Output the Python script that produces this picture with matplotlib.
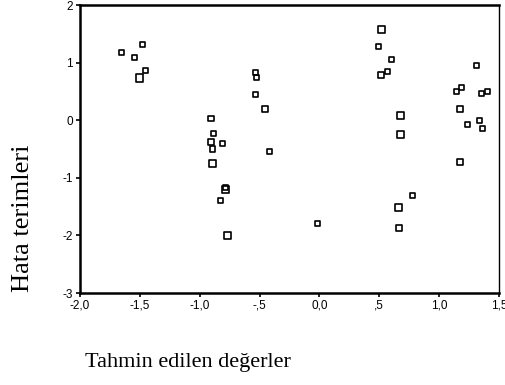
import matplotlib
matplotlib.use("Agg")
import matplotlib.pyplot as plt

# predicted values vs residuals
pred = [-1.652, -1.543, -1.480, -1.452, -1.505,
        -0.908, -0.883, -0.908, -0.897, -0.810, -0.891,
        -0.786, -0.786, -0.825, -0.766,
        -0.538, -0.524, -0.538, -0.455, -0.415,
        -0.020,
        0.520, 0.495, 0.606, 0.517, 0.565,
        0.676, 0.676, 0.662, 0.662, 0.779,
        1.314, 1.141, 1.188, 1.356, 1.408,
        1.177, 1.236, 1.340, 1.360, 1.177]
resid = [1.17, 1.08, 1.32, 0.865, 0.733,
         0.03, -0.234, -0.385, -0.50, -0.40, -0.75,
         -1.17, -1.20, -1.39, -2.00,
         0.83, 0.733, 0.448, 0.19, -0.54,
         -1.79,
         1.57, 1.28, 1.06, 0.79, 0.842,
         0.083, -0.25, -1.51, -1.87, -1.30,
         0.946, 0.495, 0.57, 0.455, 0.495,
         0.19, -0.083, -0.003, -0.148, -0.726]
# 1 = single case, 2 = overlapping cases
weight = [1, 1, 1, 1, 2,
          1.4, 1, 1.4, 1, 1, 2,
          1, 2, 1, 2,
          1, 1, 1, 1.4, 1,
          1,
          2, 1, 1, 1.4, 1,
          2, 2, 2, 1.4, 1,
          1, 1, 1, 1, 1,
          1.4, 1, 1, 1, 1.4]

xticks = [-2.0, -1.5, -1.0, -0.5, 0.0, 0.5, 1.0, 1.5]
xticklabels = ["-2,0", "-1,5", "-1,0", "-,5", "0,0", ",5", "1,0", "1,5"]
yticks = [2, 1, 0, -1, -2, -3]
yticklabels = ["2", "1", "0", "-1", "-2", "-3"]

fig = plt.figure(figsize=(5.05, 3.85), dpi=100)
ax = fig.add_axes([80 / 505, 92 / 385, 419 / 505, 288 / 385])

sizes = [13 * w for w in weight]
ax.scatter(pred, resid, s=sizes, marker="s", facecolors="none",
           edgecolors="black", linewidths=1.2)

ax.set_xlim(-2.0, 1.5)
ax.set_ylim(-3, 2)
ax.set_xticks(xticks)
ax.set_xticklabels(xticklabels)
ax.set_yticks(yticks)
ax.set_yticklabels(yticklabels)
ax.tick_params(length=3, width=1.2, pad=2, labelsize=8.5)
for lbl in ax.get_xticklabels() + ax.get_yticklabels():
    lbl.set_family("Liberation Sans")

for side in ["left", "bottom", "top"]:
    ax.spines[side].set_linewidth(1.8)
ax.spines["right"].set_linewidth(1.0)

fig.text(23 / 505, 1 - 218 / 385, "Hata terimleri", rotation=90,
         ha="center", va="center", family="Liberation Serif", fontsize=19)
fig.text(85 / 505, 1 - 363 / 385, "Tahmin edilen değerler",
         ha="left", va="center", family="Liberation Serif", fontsize=16)

fig.savefig("out.png", dpi=100)
